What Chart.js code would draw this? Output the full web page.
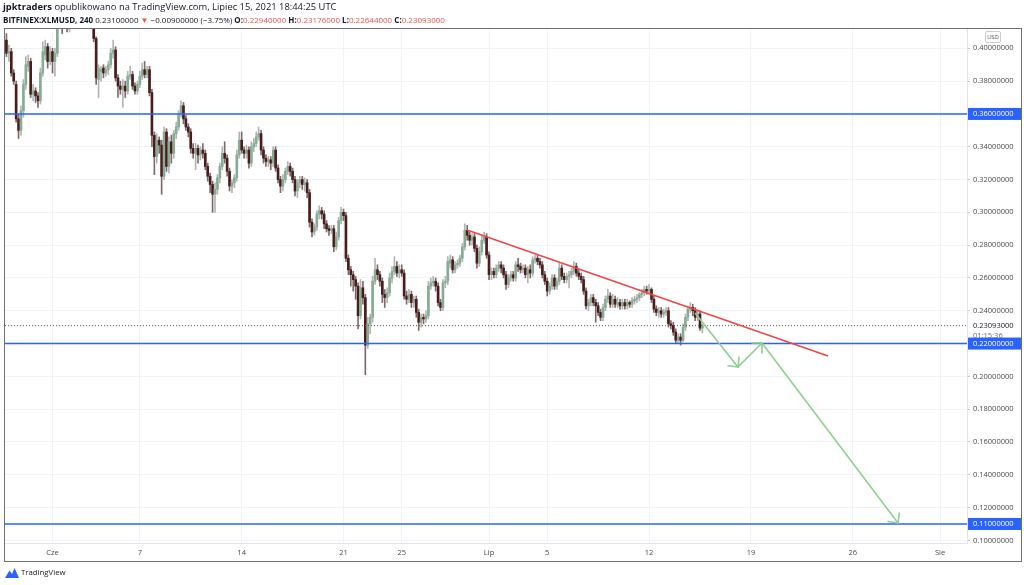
<!DOCTYPE html>
<html><head><meta charset="utf-8">
<script src="https://cdn.jsdelivr.net/npm/chart.js@4.4.1/dist/chart.umd.min.js"></script>
<style>
html,body{margin:0;padding:0;background:#fff;}
#wrap{position:relative;width:1024px;height:585px;overflow:hidden;font-family:"Open Sans",sans-serif;}
#c{position:absolute;left:0;top:0;}
.hdr{position:absolute;left:3px;color:#131722;white-space:nowrap;}
#h1{top:1px;font-size:9.4px;line-height:12px;}
#h2{top:14px;font-size:8px;line-height:11px;}
.red{color:#ef5350}
#usd{position:absolute;left:985px;top:31px;width:14px;height:10px;border:1px solid #c9cbd1;border-radius:2px;font-size:6px;line-height:10px;text-align:center;color:#555;background:#fff;}
#foot{position:absolute;left:5px;top:566px;height:12px;font-size:7.8px;line-height:12px;color:#222;white-space:nowrap;}
#foot svg{vertical-align:middle;margin-right:2px;}
</style></head>
<body><div id="wrap">
<canvas id="c" width="1024" height="585"></canvas>
<div class="hdr" id="h1"><b>jpktraders</b> opublikowano na TradingView.com, Lipiec 15, 2021 18:44:25 UTC</div>
<div class="hdr" id="h2"><b>BITFINEX:XLMUSD, 240</b> 0.23100000 <span class="red">▼</span> −0.00900000 (−3.75%) <b>O:</b><span class="red">0.22940000</span> <b>H:</b><span class="red">0.23176000</span> <b>L:</b><span class="red">0.22644000</span> <b>C:</b><span class="red">0.23093000</span></div>
<div id="usd">USD</div>
<div id="foot"><svg width="14" height="10" viewBox="0 0 14 10"><path d="M0 10 L4.5 2.5 L7 6 L9.5 0 L14 10 Z" fill="#2962ff"/></svg>TradingView</div>
</div>
<script>
// time in days relative to 1 June 2021 00:00 UTC; first candle 28 May 20:00, 4h candles
const candleStart = -19/6;
const candleStep = 1/6;
const opens = [.405,.397,.398,.385,.378,.357,.350,.362,.378,.389,.392,.372,.374,.371,.368,.385,.396,.401,.392,.398,
.392,.397,.416,.421,.418,.424,.419,.426,.434,.440,.436,.441,.437,.432,.428,.424,.420,.406,.381,.386,
.388,.385,.387,.390,.397,.399,.382,.377,.375,.377,.374,.383,.384,.377,.374,.378,.383,.387,.384,.387,
.373,.347,.334,.344,.341,.322,.349,.328,.343,.336,.348,.352,.360,.365,.357,.352,.349,.339,.336,.339,
.335,.338,.336,.328,.322,.317,.311,.314,.321,.328,.336,.333,.325,.316,.318,.321,.335,.344,.338,.336,
.338,.330,.340,.342,.346,.348,.338,.333,.331,.332,.330,.338,.327,.320,.316,.320,.325,.328,.325,.320,
.313,.318,.320,.317,.318,.312,.294,.288,.291,.299,.301,.299,.293,.290,.289,.290,.279,.285,.295,.300,
.298,.272,.265,.262,.259,.255,.237,.254,.248,.219,.232,.236,.258,.265,.262,.258,.250,.248,.251,.260,
.264,.267,.263,.265,.263,.249,.247,.250,.245,.247,.239,.233,.236,.235,.237,.255,.257,.258,.255,.245,
.242,.257,.258,.269,.271,.265,.268,.269,.272,.279,.289,.286,.283,.285,.278,.269,.276,.283,.285,.274,
.262,.264,.262,.266,.268,.266,.262,.256,.260,.262,.260,.268,.267,.265,.266,.262,.265,.263,.271,.272,
.270,.268,.262,.258,.252,.255,.260,.255,.258,.266,.261,.259,.261,.262,.264,.267,.263,.261,.259,.252,
.243,.245,.248,.245,.243,.239,.236,.242,.247,.249,.244,.247,.244,.245,.243,.245,.243,.245,.244,.246,
.247,.248,.250,.251,.253,.252,.253,.247,.241,.239,.240,.238,.239,.240,.232,.231,.227,.222,.224,.222,
.230,.236,.241,.242,.240,.236,.238,.2294];
const highs = [.409,.402,.400,.387,.380,.360,.365,.381,.395,.396,.394,.378,.376,.373,.388,.404,.405,.403,.401,.400,
.400,.425,.428,.425,.430,.427,.432,.440,.447,.445,.448,.444,.440,.436,.432,.428,.424,.407,.390,.389,
.390,.389,.392,.400,.405,.401,.384,.380,.381,.380,.386,.389,.386,.379,.380,.386,.391,.392,.389,.389,
.375,.349,.348,.346,.344,.352,.351,.346,.347,.350,.355,.362,.368,.367,.359,.354,.351,.342,.342,.341,
.340,.342,.338,.330,.324,.319,.318,.323,.330,.340,.343,.335,.327,.320,.323,.338,.349,.349,.340,.341,
.340,.343,.345,.349,.352,.350,.340,.335,.334,.334,.340,.340,.329,.322,.323,.327,.331,.330,.327,.322,
.320,.322,.322,.321,.320,.314,.296,.293,.301,.304,.303,.301,.295,.292,.292,.292,.288,.297,.303,.302,
.300,.274,.267,.264,.261,.257,.259,.258,.250,.236,.238,.261,.272,.268,.264,.260,.253,.254,.263,.267,
.273,.270,.268,.268,.265,.252,.253,.252,.249,.249,.241,.238,.238,.240,.258,.260,.261,.260,.257,.247,
.259,.261,.273,.274,.273,.270,.271,.274,.281,.293,.292,.288,.287,.287,.280,.279,.286,.288,.287,.276,
.266,.266,.268,.270,.270,.268,.264,.262,.264,.264,.270,.272,.269,.268,.268,.267,.268,.273,.274,.274,
.272,.270,.264,.260,.257,.262,.262,.260,.269,.268,.263,.263,.264,.266,.270,.269,.265,.263,.261,.254,
.247,.250,.250,.247,.245,.241,.244,.249,.253,.251,.250,.249,.248,.247,.247,.247,.247,.246,.248,.249,
.250,.251,.253,.255,.255,.256,.254,.249,.243,.242,.242,.241,.242,.242,.234,.233,.229,.226,.226,.232,
.238,.243,.245,.244,.242,.240,.240,.23176];
const lows = [.395,.392,.383,.378,.355,.345,.347,.358,.375,.386,.370,.368,.367,.364,.366,.383,.393,.388,.390,.385,
.383,.395,.412,.409,.412,.410,.410,.423,.430,.430,.432,.431,.426,.422,.418,.415,.404,.378,.370,.380,
.382,.383,.384,.388,.394,.380,.370,.372,.364,.370,.372,.381,.375,.372,.372,.376,.381,.382,.382,.371,
.340,.323,.330,.336,.311,.320,.325,.324,.330,.333,.345,.350,.358,.354,.350,.346,.336,.333,.326,.330,
.332,.333,.326,.319,.312,.300,.300,.311,.318,.326,.330,.322,.313,.312,.315,.319,.333,.336,.333,.333,
.327,.328,.337,.340,.344,.335,.330,.328,.328,.326,.328,.325,.318,.312,.313,.318,.323,.322,.318,.310,
.309,.315,.314,.313,.309,.291,.285,.286,.289,.296,.296,.290,.288,.286,.287,.276,.277,.283,.293,.295,
.270,.262,.255,.252,.247,.229,.235,.244,.201,.217,.226,.233,.256,.259,.255,.245,.242,.245,.249,.257,
.262,.261,.260,.261,.247,.244,.245,.242,.242,.236,.228,.230,.232,.233,.235,.253,.255,.252,.243,.240,
.240,.254,.256,.266,.263,.263,.266,.267,.270,.277,.283,.280,.280,.276,.266,.267,.274,.281,.272,.259,
.259,.260,.260,.264,.263,.260,.253,.254,.258,.258,.258,.264,.263,.263,.260,.257,.260,.261,.269,.268,
.266,.260,.256,.249,.250,.253,.253,.253,.256,.259,.257,.257,.254,.260,.262,.261,.259,.257,.250,.241,
.240,.243,.243,.233,.237,.234,.234,.240,.245,.242,.242,.242,.242,.241,.241,.241,.241,.242,.242,.244,
.245,.246,.248,.249,.250,.250,.245,.239,.237,.236,.236,.236,.237,.230,.229,.225,.220,.220,.219,.221,
.228,.234,.239,.237,.234,.234,.228,.22644];
const closes = [.397,.398,.385,.380,.357,.350,.362,.378,.390,.392,.372,.374,.371,.368,.385,.398,.401,.392,.398,.392,
.397,.416,.421,.418,.424,.419,.426,.434,.440,.436,.441,.437,.432,.428,.424,.420,.406,.382,.388,.387,
.385,.387,.390,.397,.399,.382,.377,.375,.377,.374,.383,.384,.377,.374,.378,.383,.387,.384,.387,.373,
.347,.334,.344,.341,.322,.349,.328,.343,.336,.348,.352,.360,.365,.357,.352,.349,.339,.336,.339,.335,
.338,.336,.328,.322,.317,.311,.314,.321,.328,.336,.333,.325,.316,.318,.321,.335,.344,.338,.336,.338,
.330,.340,.342,.346,.348,.338,.333,.331,.332,.330,.338,.327,.320,.316,.320,.325,.328,.325,.320,.313,
.318,.320,.317,.318,.312,.294,.288,.291,.299,.301,.299,.293,.290,.289,.290,.279,.285,.295,.300,.298,
.272,.265,.262,.259,.255,.237,.254,.248,.219,.232,.236,.258,.265,.262,.258,.250,.248,.251,.260,.264,
.267,.263,.265,.263,.249,.247,.250,.245,.247,.239,.233,.236,.235,.237,.255,.257,.258,.255,.245,.242,
.257,.258,.270,.271,.265,.268,.269,.272,.279,.289,.286,.283,.285,.278,.269,.276,.283,.285,.274,.262,
.264,.262,.266,.268,.266,.262,.256,.260,.262,.260,.268,.267,.265,.266,.262,.265,.263,.271,.272,.270,
.268,.262,.258,.252,.255,.260,.255,.258,.266,.261,.259,.261,.262,.264,.267,.263,.261,.259,.252,.243,
.245,.248,.245,.243,.239,.236,.242,.247,.249,.244,.247,.244,.245,.243,.245,.243,.245,.244,.246,.247,
.248,.250,.251,.253,.252,.253,.247,.241,.239,.240,.238,.239,.240,.232,.231,.227,.222,.224,.222,.230,
.236,.241,.242,.240,.236,.238,.2294,.23093];

const priceTicks = [0.40,0.38,0.36,0.34,0.32,0.30,0.28,0.26,0.24,0.22,0.20,0.18,0.16,0.14,0.12,0.10];
const dateTickDays = [0,6,13,20,24,30,34,41,48,55,61];
const dateTickLabels = ['Cze','7','14','21','25','Lip','5','12','19','26','Sie'];
const levelPrices = [0.36,0.22,0.11];
const lastPrice = 0.23093;
const countdownText = '01:15:36';
const trendDays = [28.49,53.30];
const trendPrices = [0.2893,0.2124];
const pathDays = [44.16,47.11,48.76,58.11];
const pathPrices = [0.2387,0.2057,0.2204,0.1106];
const xMin = -3.265, xMax = 62.85, yMin = 0.0984, yMax = 0.4124;

const upBody = '#86ad93', downBody = '#4a1c1c', upWick = '#b3b3b3', downWick = '#7d6a6a';
const levelColor = '#2962ff', trendColor = '#f04646', pathColor = '#8fd08f';
const FONT = '"Open Sans", sans-serif';

const times = closes.map((_, i) => candleStart + i * candleStep);
const isUp = closes.map((c, i) => c >= opens[i]);
const wickData = times.map((t, i) => ({x: t, y: [lows[i], highs[i]]}));
const bodyData = times.map((t, i) => ({x: t, y: [opens[i], closes[i]]}));

const datasets = [];
levelPrices.forEach(v => datasets.push({type:'line', data:[{x:xMin,y:v},{x:xMax,y:v}], borderColor:levelColor, borderWidth:1.6, pointRadius:0, order:1}));
datasets.push({type:'line', data:[{x:xMin,y:lastPrice},{x:xMax,y:lastPrice}], borderColor:'#555', borderWidth:1, borderDash:[1,2], pointRadius:0, order:2});
datasets.push({type:'line', data:trendDays.map((t,i)=>({x:t,y:trendPrices[i]})), borderColor:trendColor, borderWidth:1.6, pointRadius:0, order:0});
datasets.push({type:'line', data:pathDays.map((t,i)=>({x:t,y:pathPrices[i]})), borderColor:pathColor, borderWidth:1.6, pointRadius:0, order:0});
datasets.push({type:'bar', data:wickData, backgroundColor:isUp.map(u=>u?upWick:downWick), barThickness:1, grouped:false, order:6});
datasets.push({type:'bar', data:bodyData, backgroundColor:isUp.map(u=>u?upBody:downBody), barThickness:2, grouped:false, order:5});

const overlay = {
  id:'overlay',
  afterDatasetsDraw(chart){
    const {ctx, chartArea:a, scales:{x, y}} = chart;
    ctx.save();
    ctx.beginPath(); ctx.rect(a.left, a.top, a.right-a.left, a.bottom-a.top); ctx.clip();
    ctx.strokeStyle = pathColor; ctx.lineWidth = 1.6; ctx.lineCap = 'round';
    for (let i = 1; i < pathDays.length; i++) {
      const x0 = x.getPixelForValue(pathDays[i-1]), y0 = y.getPixelForValue(pathPrices[i-1]);
      const x1 = x.getPixelForValue(pathDays[i]), y1 = y.getPixelForValue(pathPrices[i]);
      const ang = Math.atan2(y1-y0, x1-x0);
      [-1,1].forEach(s => {
        const b = ang + Math.PI + s*0.78;
        ctx.beginPath(); ctx.moveTo(x1, y1); ctx.lineTo(x1 + 10*Math.cos(b), y1 + 10*Math.sin(b)); ctx.stroke();
      });
    }
    ctx.restore();
  },
  afterDraw(chart){
    const {ctx, chartArea:a, scales:{y}} = chart;
    ctx.save();
    ctx.font = '7.5px ' + FONT;
    ctx.textBaseline = 'middle'; ctx.textAlign = 'left';
    const yp = y.getPixelForValue(lastPrice);
    ctx.fillStyle = '#fff'; ctx.fillRect(a.right+1, yp-5, 54, 20);
    ctx.fillStyle = '#131722'; ctx.fillText(lastPrice.toFixed(8), a.right+6, yp);
    ctx.fillStyle = '#6a6d78'; ctx.fillText(countdownText, a.right+6, yp+10);
    levelPrices.forEach(v => {
      const yy = y.getPixelForValue(v);
      ctx.fillStyle = levelColor; ctx.fillRect(a.right+1, yy-6, 54, 12);
      ctx.fillStyle = '#fff'; ctx.fillText(v.toFixed(8), a.right+6, yy);
    });
    ctx.strokeStyle = '#707070'; ctx.lineWidth = 1;
    ctx.strokeRect(4.5, a.top+0.5, 1017, 533);
    ctx.restore();
  }
};

new Chart(document.getElementById('c'), {
  type:'bar',
  data:{datasets},
  options:{
    responsive:false, animation:false, devicePixelRatio:1,
    layout:{padding:{left:5, top:28, right:2, bottom:24}},
    plugins:{legend:{display:false}, tooltip:{enabled:false}},
    scales:{
      x:{type:'linear', min:xMin, max:xMax, offset:false,
        grid:{color:'#f0f3fa', offset:false, drawTicks:false},
        border:{display:true, color:'#e0e3eb'},
        afterBuildTicks:(s)=>{ s.ticks = dateTickDays.map(v=>({value:v})); },
        afterFit:(s)=>{ s.height = 18; s.paddingLeft = 0; s.paddingRight = 0; },
        ticks:{autoSkip:false, maxRotation:0, padding:5, color:'#4a4a4a', font:{size:7.5, family:FONT},
          callback:(v)=>{ const i = dateTickDays.indexOf(v); return i>=0 ? dateTickLabels[i] : ''; }}
      },
      y:{type:'linear', position:'right', min:yMin, max:yMax, beginAtZero:false,
        grid:{color:'#f0f3fa', tickLength:3, tickColor:'#c8c8c8'},
        border:{display:true, color:'#e0e3eb'},
        afterBuildTicks:(s)=>{ s.ticks = priceTicks.map(v=>({value:v})); },
        afterFit:(s)=>{ s.width = 55; s.paddingTop = 0; s.paddingBottom = 0; },
        ticks:{padding:3, color:'#4a4a4a', font:{size:7.5, family:FONT}, callback:(v)=>Number(v).toFixed(8)}
      }
    }
  },
  plugins:[overlay]
});
</script>
</body></html>
